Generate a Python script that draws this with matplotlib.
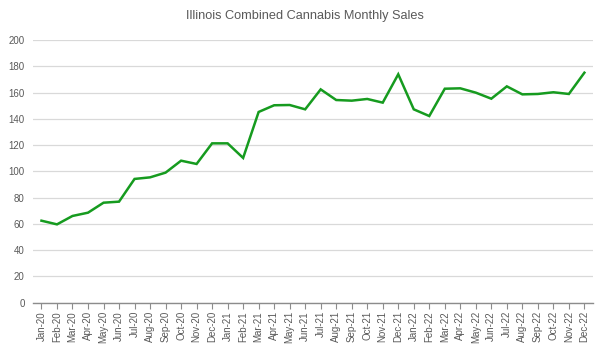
import matplotlib
matplotlib.use('Agg')
import matplotlib.pyplot as plt
from matplotlib import font_manager

plt.rcParams['font.family'] = ['Liberation Sans', 'DejaVu Sans']

# monthly labels and sales values (millions)
months = ['Jan-20', 'Feb-20', 'Mar-20', 'Apr-20', 'May-20', 'Jun-20',
          'Jul-20', 'Aug-20', 'Sep-20', 'Oct-20', 'Nov-20', 'Dec-20',
          'Jan-21', 'Feb-21', 'Mar-21', 'Apr-21', 'May-21', 'Jun-21',
          'Jul-21', 'Aug-21', 'Sep-21', 'Oct-21', 'Nov-21', 'Dec-21',
          'Jan-22', 'Feb-22', 'Mar-22', 'Apr-22', 'May-22', 'Jun-22',
          'Jul-22', 'Aug-22', 'Sep-22', 'Oct-22', 'Nov-22', 'Dec-22']
sales = [62.4, 59.6, 66.0, 68.5, 76.1, 76.9,
         94.2, 95.4, 99.0, 108.1, 105.6, 121.3,
         121.3, 110.2, 145.2, 150.3, 150.5, 147.2,
         162.4, 154.3, 153.8, 155.1, 152.3, 173.9,
         147.2, 142.1, 162.9, 163.2, 159.9, 155.3,
         164.7, 158.6, 158.9, 160.2, 158.9, 175.1]

fig = plt.figure(figsize=(6.1, 3.62), dpi=100)
ax = fig.add_axes([0.054, 0.164, 0.918, 0.7255])

x = list(range(len(months)))
ax.plot(x, sales, color='#169b1f', linewidth=1.8, solid_joinstyle='miter')

ax.set_xlim(-0.55, len(months) - 0.45)
ax.set_ylim(0, 200)
ax.set_yticks(range(0, 201, 20))
ax.set_xticks(x)
ax.set_xticklabels(months, rotation=90)

ax.grid(axis='y', color='#d9d9d9', linewidth=0.9)
ax.set_axisbelow(True)
for side in ['left', 'right', 'top']:
    ax.spines[side].set_visible(False)
ax.spines['bottom'].set_color('#8c8c8c')
ax.spines['bottom'].set_linewidth(1.0)

ax.tick_params(axis='y', length=0, labelsize=7, labelcolor='#595959', pad=6)
ax.tick_params(axis='x', length=4, color='#8c8c8c', labelsize=7,
               labelcolor='#595959', pad=2)

# condensed title font if available
names = {f.name for f in font_manager.fontManager.ttflist}
if 'Liberation Sans Narrow' in names:
    title_font, title_size = ['Liberation Sans Narrow', 'DejaVu Sans'], 11
else:
    title_font, title_size = ['Liberation Sans', 'DejaVu Sans'], 9.2

fig.text(0.5, 1 - 16 / 362, 'Illinois Combined Cannabis Monthly Sales',
         ha='center', va='center', fontsize=title_size, color='#595959',
         family=title_font)

fig.savefig('out.png', dpi=100)
